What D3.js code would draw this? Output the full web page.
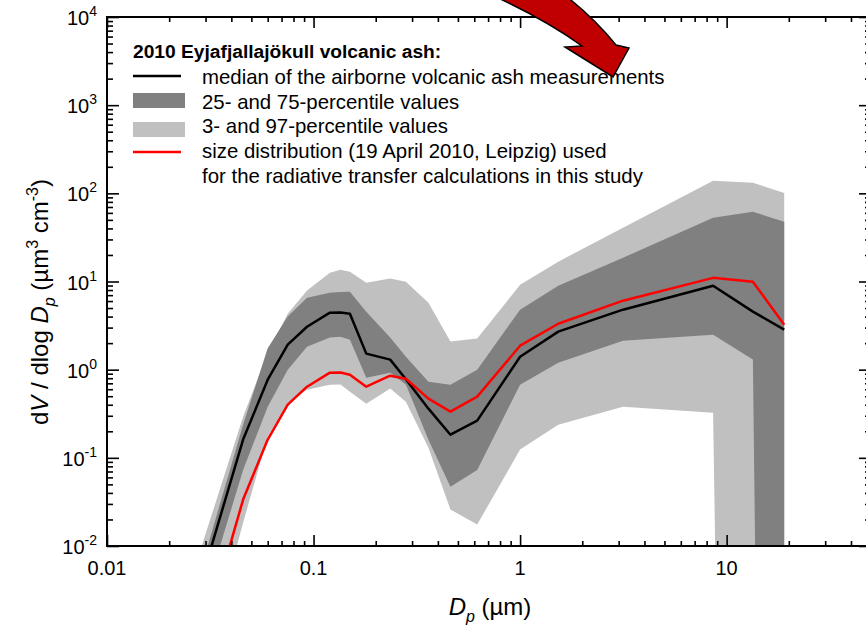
<!DOCTYPE html>
<html><head><meta charset="utf-8">
<script src="https://cdn.jsdelivr.net/npm/d3@7"></script>
<style>body{margin:0;background:#fff}svg{display:block;font-family:"Liberation Sans",Arial,sans-serif}</style>
</head><body><svg id="c" width="866" height="625"></svg>
<script>
// particle diameter grid (µm)
const diameters = [0.025, 0.0456, 0.06, 0.075, 0.093, 0.12, 0.135, 0.15, 0.18, 0.235, 0.28, 0.36, 0.46, 0.62, 1.0, 1.53, 3.15, 8.6, 13.4, 19];
// median of airborne volcanic ash measurements
const median = [0.0014, 0.161, 0.77, 1.92, 3.07, 4.43, 4.45, 4.31, 1.52, 1.30, 0.78, 0.361, 0.183, 0.264, 1.40, 2.70, 4.79, 8.96, 4.55, 2.84];
// 25th and 75th percentile
const p25 = [0.0007, 0.073, 0.38, 1.0, 1.82, 2.31, 2.37, 2.19, 0.81, 0.925, 0.68, 0.16, 0.047, 0.073, 0.676, 1.20, 2.13, 2.49, 1.30, 0];
const p75 = [0.0019, 0.238, 1.75, 4.0, 6.55, 7.46, 7.6, 7.66, 4.55, 2.31, 1.40, 0.731, 0.676, 1.0, 4.79, 8.96, 18.6, 52.9, 61.8, 47.6];
// 3rd and 97th percentile
const p3 = [0.0001, 0.0184, 0.174, 0.42, 0.593, 0.676, 0.68, 0.563, 0.41, 0.61, 0.434, 0.13, 0.0259, 0.0175, 0.124, 0.238, 0.38, 0.325, 0, 0];
const p97 = [0.0036, 0.293, 1.56, 4.3, 7.9, 12.6, 13.6, 12.9, 9.7, 10.8, 9.95, 5.75, 2.08, 2.25, 9.2, 16.8, 40.7, 139, 132, 101];
// size distribution 19 April 2010, Leipzig
const leipzig = [0.00025, 0.0336, 0.161, 0.401, 0.641, 0.925, 0.93, 0.877, 0.641, 0.855, 0.79, 0.469, 0.334, 0.494, 1.87, 3.32, 6.06, 11.0, 9.95, 3.24];

const xTickValues = [0.01, 0.1, 1, 10];
const xTickLabels = ["0.01", "0.1", "1", "10"];
const yTickExponents = [-2, -1, 0, 1, 2, 3, 4];

const legendTitle = "2010 Eyjafjallajökull volcanic ash:";
const legendItems = [
  "median of the airborne volcanic ash measurements",
  "25- and 75-percentile values",
  "3- and 97-percentile values",
  "size distribution (19 April 2010, Leipzig) used",
  "for the radiative transfer calculations in this study"
];

const svg = d3.select("#c");
const L = 107, R = 871, T = 17, B = 546;
const x = d3.scaleLog().domain([0.01, 50]).range([L, R]);
const y = d3.scaleLog().domain([0.01, 1e4]).range([B, T]);
const fv = v => Math.max(v, 1e-30);

svg.append("clipPath").attr("id", "clip").append("rect")
  .attr("x", L).attr("y", T).attr("width", R - L).attr("height", B - T);
const plot = svg.append("g").attr("clip-path", "url(#clip)");

const band = (lo, hi) => d3.area()
  .x((d, i) => x(diameters[i]))
  .y0((d, i) => y(fv(lo[i])))
  .y1((d, i) => y(fv(hi[i])))(diameters);
plot.append("path").attr("d", band(p3, p97)).attr("fill", "#c0c0c0");
plot.append("path").attr("d", band(p25, p75)).attr("fill", "#808080");

const line = d3.line().x((d, i) => x(diameters[i])).y(d => y(fv(d)));
plot.append("path").attr("d", line(median)).attr("fill", "none").attr("stroke", "#000").attr("stroke-width", 2.5).attr("stroke-linejoin", "round");
plot.append("path").attr("d", line(leipzig)).attr("fill", "none").attr("stroke", "#ff0000").attr("stroke-width", 2.5).attr("stroke-linejoin", "round");

// ticks
const xMinor = [];
[-2, -1, 0, 1].forEach(e => { for (let k = 2; k <= 9; k++) { const v = k * Math.pow(10, e); if (v <= 50) xMinor.push(v); } });
const yMinor = [];
[-2, -1, 0, 1, 2, 3].forEach(e => { for (let k = 2; k <= 9; k++) yMinor.push(k * Math.pow(10, e)); });
const yMajor = yTickExponents.map(e => Math.pow(10, e));

function ax(gen, tr, size, vals) {
  const g = svg.append("g").attr("transform", tr)
    .call(gen.tickValues(vals).tickSize(size).tickSizeOuter(0).tickFormat(""));
  g.select(".domain").remove();
  g.selectAll("line").attr("stroke", "#000").attr("stroke-width", 1.6);
}
ax(d3.axisBottom(x), `translate(0,${B})`, -11, xTickValues);
ax(d3.axisBottom(x), `translate(0,${B})`, -5, xMinor);
ax(d3.axisTop(x), `translate(0,${T})`, -11, xTickValues);
ax(d3.axisTop(x), `translate(0,${T})`, -5, xMinor);
ax(d3.axisLeft(y), `translate(${L},0)`, -12, yMajor);
ax(d3.axisLeft(y), `translate(${L},0)`, -6, yMinor);
ax(d3.axisRight(y), `translate(${R},0)`, -12, yMajor);
ax(d3.axisRight(y), `translate(${R},0)`, -6, yMinor);

svg.append("rect").attr("x", L).attr("y", T).attr("width", R - L).attr("height", B - T)
  .attr("fill", "none").attr("stroke", "#000").attr("stroke-width", 2);

// tick labels
xTickValues.forEach((v, i) => {
  svg.append("text").attr("x", x(v)).attr("y", 575).attr("text-anchor", "middle")
    .attr("font-size", 20).text(xTickLabels[i]);
});
yTickExponents.forEach(e => {
  const t = svg.append("text").attr("x", 97).attr("y", y(Math.pow(10, e)) + 8)
    .attr("text-anchor", "end").attr("font-size", 20);
  t.append("tspan").text("10");
  t.append("tspan").attr("dy", -9).attr("font-size", 14).text(String(e));
});

// axis titles
const yl = svg.append("text").attr("transform", "rotate(-90)").attr("x", -302).attr("y", 48)
  .attr("text-anchor", "middle").attr("font-size", 24);
yl.append("tspan").text("d");
yl.append("tspan").attr("font-style", "italic").text("V");
yl.append("tspan").text(" / dlog ");
yl.append("tspan").attr("font-style", "italic").text("D");
yl.append("tspan").attr("font-style", "italic").attr("font-size", 16).attr("dy", 7).text("p");
yl.append("tspan").attr("dy", -7).text(" (µm");
yl.append("tspan").attr("font-size", 16).attr("dy", -10).text("3");
yl.append("tspan").attr("dy", 10).text(" cm");
yl.append("tspan").attr("font-size", 16).attr("dy", -10).text("-3");
yl.append("tspan").attr("dy", 10).text(")");

const xl = svg.append("text").attr("x", 490).attr("y", 615).attr("text-anchor", "middle").attr("font-size", 24);
xl.append("tspan").attr("font-style", "italic").text("D");
xl.append("tspan").attr("font-style", "italic").attr("font-size", 16).attr("dy", 7).text("p");
xl.append("tspan").attr("dy", -7).text(" (µm)");

// legend
const lg = svg.append("g");
lg.append("text").attr("x", 133).attr("y", 58).attr("font-size", 19.2).attr("font-weight", "bold").text(legendTitle);
const rows = [84, 108.5, 133, 158, 183];
legendItems.forEach((s, i) => lg.append("text").attr("x", 202).attr("y", rows[i]).attr("font-size", 20.4).text(s));
lg.append("line").attr("x1", 133).attr("x2", 181).attr("y1", 76).attr("y2", 76).attr("stroke", "#000").attr("stroke-width", 2.5);
lg.append("rect").attr("x", 133).attr("y", 93).attr("width", 52).attr("height", 15).attr("fill", "#808080");
lg.append("rect").attr("x", 133).attr("y", 122).attr("width", 52).attr("height", 15).attr("fill", "#c0c0c0");
lg.append("line").attr("x1", 133).attr("x2", 181).attr("y1", 152).attr("y2", 152).attr("stroke", "#ff0000").attr("stroke-width", 2.5);

// curved arrow
svg.append("path")
  .attr("d", "M452,-22 Q532,10 582,46 L565,47 L613,77 L629,48 L616,45 Q578,-2 520,-34 Z")
  .attr("fill", "#c00000").attr("stroke", "#000").attr("stroke-width", 1.5).attr("stroke-linejoin", "miter");
</script></body></html>
